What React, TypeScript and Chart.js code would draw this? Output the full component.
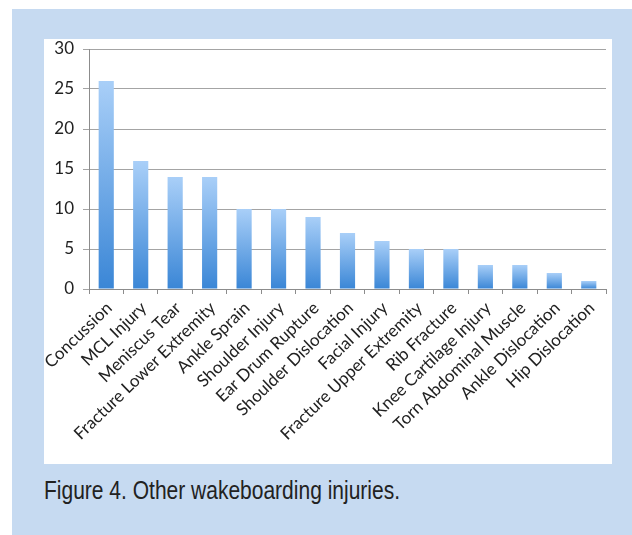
import React, { useEffect, useRef } from "react";
import { Chart, registerables } from "chart.js";

Chart.register(...registerables);

const categories = [
  "Concussion",
  "MCL Injury",
  "Meniscus Tear",
  "Fracture Lower Extremity",
  "Ankle Sprain",
  "Shoulder Injury",
  "Ear Drum Rupture",
  "Shoulder Dislocation",
  "Facial Injury",
  "Fracture Upper Extremity",
  "Rib Fracture",
  "Knee Cartilage Injury",
  "Torn Abdominal Muscle",
  "Ankle Dislocation",
  "Hip Dislocation",
];

const injuryCounts = [26, 16, 14, 14, 10, 10, 9, 7, 6, 5, 5, 3, 3, 2, 1];

const yMin = 0;
const yMax = 30;
const yStep = 5;

const caption = "Figure 4. Other wakeboarding injuries.";

export default function App() {
  const canvasRef = useRef<HTMLCanvasElement | null>(null);

  useEffect(() => {
    const canvas = canvasRef.current;
    if (!canvas) return;
    const chart = new Chart(canvas, {
      type: "bar",
      data: {
        labels: categories,
        datasets: [
          {
            data: injuryCounts,
            borderWidth: 0,
            barPercentage: 0.44,
            categoryPercentage: 1,
            backgroundColor: (ctx: any) => {
              const c = ctx.chart;
              const ys = c.scales && c.scales.y;
              if (!ys || ctx.raw === undefined) return "#6aa6e8";
              const top = ys.getPixelForValue(ctx.raw);
              const bottom = ys.getPixelForValue(0);
              if (!isFinite(top) || !isFinite(bottom) || top === bottom) return "#6aa6e8";
              const g = c.ctx.createLinearGradient(0, top, 0, bottom);
              g.addColorStop(0, "#a9cff8");
              g.addColorStop(1, "#3a86d6");
              return g;
            },
          },
        ],
      },
      options: {
        responsive: false,
        devicePixelRatio: 1,
        animation: false,
        layout: { padding: { left: 0, top: 10, right: 6, bottom: 0 } },
        plugins: {
          legend: { display: false },
          tooltip: { enabled: false },
        },
        scales: {
          x: {
            grid: {
              offset: true,
              drawOnChartArea: false,
              drawTicks: true,
              tickLength: 5,
              color: "#8c8c8c",
            },
            border: { color: "#8c8c8c" },
            ticks: {
              autoSkip: false,
              minRotation: 44,
              maxRotation: 44,
              padding: 4,
              labelOffset: 3,
              color: "#222",
              font: { family: "Lato", size: 17 },
            },
            afterFit: (scale: any) => {
              scale.height = 175;
              scale.paddingLeft = 0;
              scale.paddingRight = 0;
            },
          },
          y: {
            min: yMin,
            max: yMax,
            ticks: {
              stepSize: yStep,
              padding: 9,
              color: "#222",
              font: { family: "Lato", size: 17 },
            },
            grid: {
              color: "#a4a4a4",
              tickLength: 6,
              lineWidth: 1,
            },
            border: { color: "#8c8c8c" },
            afterFit: (scale: any) => {
              scale.width = 45;
              scale.paddingTop = 0;
              scale.paddingBottom = 0;
            },
          },
        },
      },
    } as any);
    return () => chart.destroy();
  }, []);

  return (
    <div
      style={{
        position: "absolute",
        left: 0,
        top: 0,
        width: 632,
        height: 535,
        background: "#ffffff",
        overflow: "hidden",
      }}
    >
      <div
        style={{
          position: "absolute",
          left: 12,
          top: 9,
          width: 620,
          height: 526,
          background: "#c6daf1",
        }}
      />
      <div
        style={{
          position: "absolute",
          left: 44,
          top: 39,
          width: 568,
          height: 425,
          background: "#ffffff",
        }}
      >
        <canvas ref={canvasRef} width={568} height={425} style={{ display: "block" }} />
      </div>
      <div
        style={{
          position: "absolute",
          left: 44,
          top: 478,
          fontFamily: "'Liberation Sans', sans-serif",
          fontSize: 25,
          lineHeight: 1,
          color: "#222",
          whiteSpace: "nowrap",
          transform: "scaleX(0.84)",
          transformOrigin: "0 0",
        }}
      >
        {caption}
      </div>
    </div>
  );
}
